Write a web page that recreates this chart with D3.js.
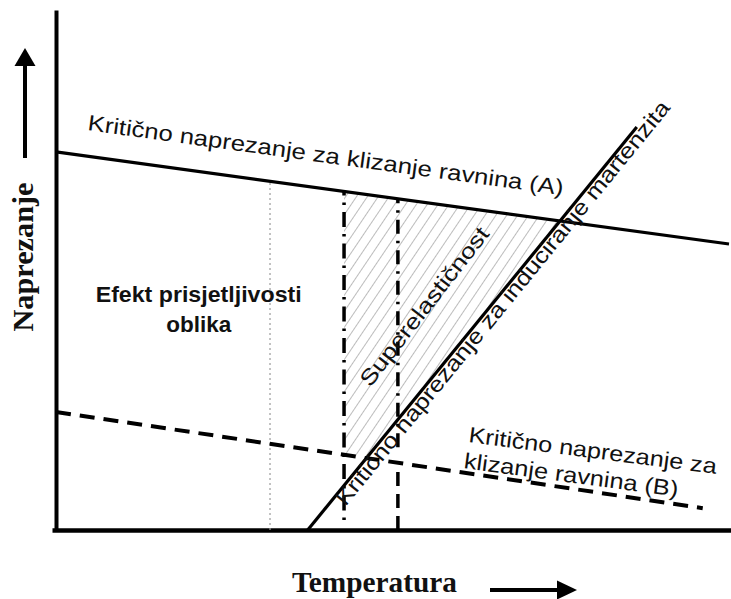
<!DOCTYPE html>
<html>
<head>
<meta charset="utf-8">
<script src="https://cdn.jsdelivr.net/npm/d3@7"></script>
<style>
  html, body { margin: 0; padding: 0; background: #fff; }
  svg { display: block; }
</style>
</head>
<body>
<svg id="chart" width="731" height="599"></svg>
<script>
// ---- Data (schematic units: temperature 0..100, stress 0..100) ----
const lineA_T = [0, 100];          // critical stress for slip (A)
const lineA_S = [72.7, 55.0];
const lineB_T = [0, 96.1];         // critical stress for slip (B)
const lineB_S = [22.7, 4.2];
const martT = [37.4, 86.3];        // critical stress to induce martensite
const martS = [0, 77.5];
const dottedT = 31.8;              // thin dotted vertical
const dashDot1T = 42.8;            // first dash-dot vertical (left edge of superelasticity)
const dashDot1Bottom = 1.9;
const line2T = 50.8;               // second vertical (dash-dot above B, dashed below)

const labelTexts = {
  A: "Kritično naprezanje za klizanje ravnina (A)",
  M: "Kritično naprezanje za induciranje martenzita",
  SE: "Superelastičnost",
  B1: "Kritično naprezanje za",
  B2: "klizanje ravnina (B)",
  SM1: "Efekt prisjetljivosti",
  SM2: "oblika",
  xTitle: "Temperatura",
  yTitle: "Naprezanje"
};

// ---- Scales ----
const svg = d3.select("#chart");
const x = d3.scaleLinear().domain([0, 100]).range([56, 729]);
const y = d3.scaleLinear().domain([0, 100]).range([530, 10]);

const lerp = (T, S) => t => S[0] + (S[1] - S[0]) * (t - T[0]) / (T[1] - T[0]);
const fA = lerp(lineA_T, lineA_S);
const fB = lerp(lineB_T, lineB_S);
const fM = lerp(martT, martS);
function intersect(f, g) {
  const a1 = f(1) - f(0), b1 = f(0), a2 = g(1) - g(0), b2 = g(0);
  const t = (b2 - b1) / (a1 - a2);
  return [t, f(t)];
}
const AM = intersect(fA, fM);
const BM = intersect(fB, fM);

const line = d3.line().x(d => x(d[0])).y(d => y(d[1]));

// ---- Hatch pattern ----
const defs = svg.append("defs");
const pat = defs.append("pattern")
  .attr("id", "hatch").attr("patternUnits", "userSpaceOnUse")
  .attr("width", 9).attr("height", 9)
  .attr("patternTransform", "rotate(34)");
pat.append("line").attr("x1", 0).attr("y1", 0).attr("x2", 0).attr("y2", 9)
  .attr("stroke", "#7a7a7a").attr("stroke-width", 1);

const hatchPoly = [
  [dashDot1T, fA(dashDot1T)],
  AM,
  BM,
  [dashDot1T, fB(dashDot1T)]
];
svg.append("path").attr("d", line(hatchPoly) + "Z")
  .attr("fill", "url(#hatch)").attr("stroke", "none");

// ---- Axes (no ticks) ----
svg.append("g").attr("transform", `translate(${x(0)},0)`)
  .call(d3.axisLeft(y).tickValues([]).tickSizeOuter(0))
  .select(".domain").attr("stroke", "#000").attr("stroke-width", 4);
svg.append("g").attr("transform", `translate(0,${y(0)})`)
  .call(d3.axisBottom(d3.scaleLinear().domain([-0.6, 100.3]).range([52, 731])).tickValues([]).tickSizeOuter(0))
  .select(".domain").attr("stroke", "#000").attr("stroke-width", 4.5);

// ---- Verticals ----
svg.append("path").attr("d", line([[dottedT, 0], [dottedT, fA(dottedT)]]))
  .attr("stroke", "#9a9a9a").attr("stroke-width", 1.2).attr("stroke-dasharray", "2,3").attr("fill", "none");

svg.append("path").attr("d", line([[dashDot1T, dashDot1Bottom], [dashDot1T, fA(dashDot1T)]]))
  .attr("stroke", "#000").attr("stroke-width", 3.5).attr("stroke-dasharray", "2.5,7,15,7").attr("fill", "none");

svg.append("path").attr("d", line([[line2T, 0], [line2T, fB(line2T)]]))
  .attr("stroke", "#000").attr("stroke-width", 3.5).attr("stroke-dasharray", "14,8").attr("fill", "none");
svg.append("path").attr("d", line([[line2T, fB(line2T) + 3], [line2T, fA(line2T)]]))
  .attr("stroke", "#000").attr("stroke-width", 3.5).attr("stroke-dasharray", "14,7,2.5,7").attr("fill", "none");

// ---- Main lines ----
svg.append("path").attr("d", line(lineA_T.map((t, i) => [t, lineA_S[i]])))
  .attr("stroke", "#000").attr("stroke-width", 3.2).attr("fill", "none");
svg.append("path").attr("d", line(martT.map((t, i) => [t, martS[i]])))
  .attr("stroke", "#000").attr("stroke-width", 3.2).attr("fill", "none");
svg.append("path").attr("d", line(lineB_T.map((t, i) => [t, lineB_S[i]])))
  .attr("stroke", "#000").attr("stroke-width", 4).attr("stroke-dasharray", "15,9").attr("fill", "none");

// ---- Labels ----
const sans = "'Liberation Sans', Arial, Helvetica, sans-serif";
const serif = "'Liberation Serif', 'Times New Roman', serif";
function label(txt, t, s, angle, opts) {
  const g = svg.append("text")
    .attr("transform", `translate(${x(t)},${y(s)}) rotate(${angle})`)
    .attr("font-family", opts.family || sans)
    .attr("font-size", opts.size)
    .attr("font-weight", opts.weight || "normal")
    .attr("fill", "#111")
    .attr("text-anchor", opts.anchor || "start")
    .text(txt);
  if (opts.len) g.attr("textLength", opts.len).attr("lengthAdjust", "spacingAndGlyphs");
  return g;
}
const angA = Math.atan2(y(lineA_S[1]) - y(lineA_S[0]), x(lineA_T[1]) - x(lineA_T[0])) * 180 / Math.PI;
const angM = Math.atan2(y(martS[1]) - y(martS[0]), x(martT[1]) - x(martT[0])) * 180 / Math.PI;

label(labelTexts.A, 4.6, 76.9, angA, { size: 22, len: 480 });
label(labelTexts.M, 43.0, 4.4, angM, { size: 22, len: 515 });
label(labelTexts.SE, 55.6, 42.1, -52, { size: 22, len: 195, anchor: "middle" });
label(labelTexts.B1, 61.2, 16.9, 7.3, { size: 22, len: 250 });
label(labelTexts.B2, 60.5, 11.9, 7.6, { size: 22, len: 216 });
label(labelTexts.SM1, 21.2, 43.8, 0, { size: 21.5, weight: "bold", len: 206, anchor: "middle" });
label(labelTexts.SM2, 21.2, 38.1, 0, { size: 21.5, weight: "bold", len: 65, anchor: "middle" });

// Axis titles
svg.append("text").attr("x", 292).attr("y", 592)
  .attr("font-family", serif).attr("font-weight", "bold").attr("font-size", 30)
  .attr("textLength", 165).attr("lengthAdjust", "spacingAndGlyphs").attr("fill", "#111")
  .text(labelTexts.xTitle);
svg.append("text").attr("transform", "translate(33,257) rotate(-90)")
  .attr("font-family", serif).attr("font-weight", "bold").attr("font-size", 29)
  .attr("text-anchor", "middle")
  .attr("textLength", 149).attr("lengthAdjust", "spacingAndGlyphs").attr("fill", "#111")
  .text(labelTexts.yTitle);

// Direction arrows
svg.append("line").attr("x1", 490).attr("y1", 590).attr("x2", 560).attr("y2", 590)
  .attr("stroke", "#000").attr("stroke-width", 4);
svg.append("path").attr("d", "M557,580.5 L577,590 L557,599.5 Z").attr("fill", "#000");
svg.append("line").attr("x1", 25).attr("y1", 158).attr("x2", 25).attr("y2", 63)
  .attr("stroke", "#000").attr("stroke-width", 4);
svg.append("path").attr("d", "M14.5,66 L25,48 L35.5,66 Z").attr("fill", "#000");
</script>
</body>
</html>
